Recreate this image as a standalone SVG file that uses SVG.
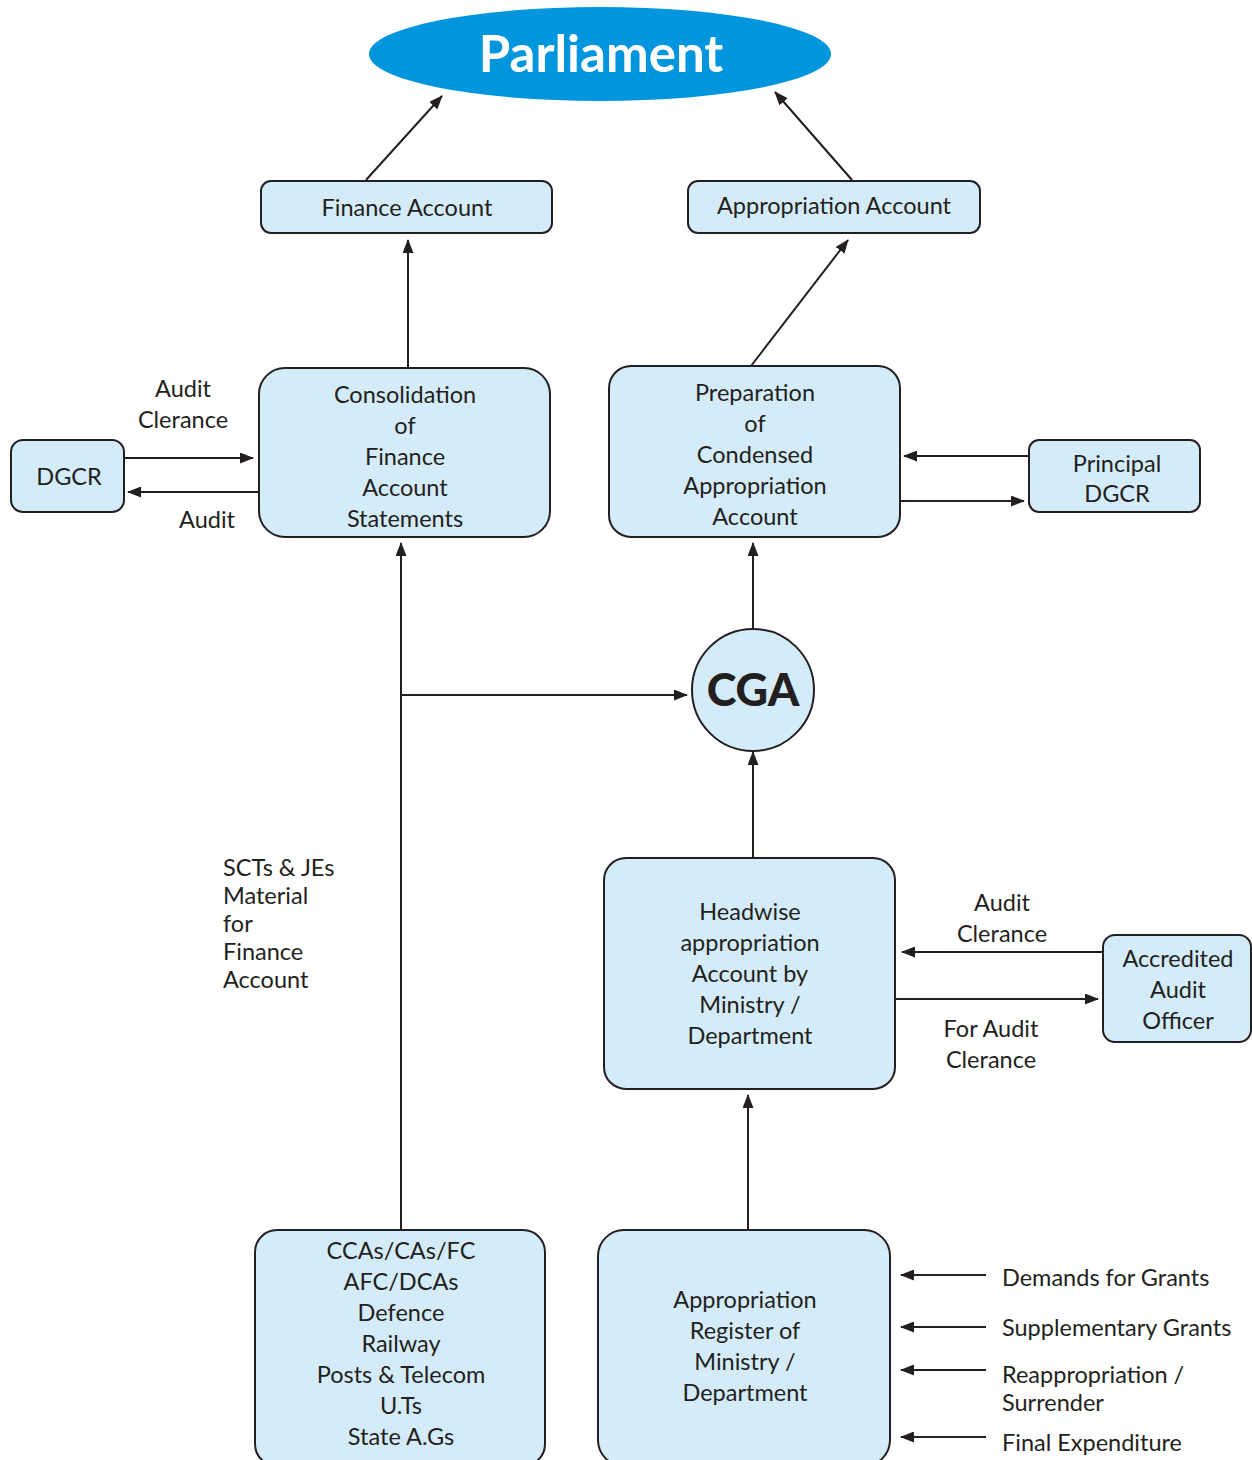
<svg xmlns="http://www.w3.org/2000/svg" width="1252" height="1460" viewBox="0 0 1252 1460">
  <style>
    .box { fill: #D4ECF9; stroke: #231F20; stroke-width: 2; }
    .t { font-family: Lato, "Open Sans", "Liberation Sans", sans-serif; font-size: 23.5px; fill: #231F20; }
    .c { text-anchor: middle; }
    .edge { stroke: #231F20; stroke-width: 2; fill: none; marker-end: url(#arrow); }
  </style>
  <defs>
    <marker id="arrow" viewBox="0 0 14 11" refX="13" refY="5.5" markerWidth="14" markerHeight="11" markerUnits="userSpaceOnUse" orient="auto">
      <path d="M0,0 L14,5.5 L0,11 Z" fill="#231F20"/>
    </marker>
  </defs>

  <!-- Nodes -->
  <g id="parliament">
    <ellipse cx="600" cy="54" rx="231" ry="47" fill="#0095DD"/>
    <text x="601" y="72" text-anchor="middle" font-family="Lato, 'Open Sans', sans-serif" font-weight="bold" font-size="51" fill="#FFFFFF">Parliament</text>
  </g>

  <g id="finance-account">
    <rect class="box" x="261" y="181" width="291" height="52" rx="10"/>
    <text class="t c" x="407" y="216">Finance Account</text>
  </g>

  <g id="appropriation-account">
    <rect class="box" x="688" y="181" width="292" height="52" rx="10"/>
    <text class="t c" x="834" y="214">Appropriation Account</text>
  </g>

  <g id="consolidation">
    <rect class="box" x="259" y="368" width="291" height="169" rx="26"/>
    <text class="t c" x="405" y="403">Consolidation</text>
    <text class="t c" x="405" y="434">of</text>
    <text class="t c" x="405" y="465">Finance</text>
    <text class="t c" x="405" y="496">Account</text>
    <text class="t c" x="405" y="527">Statements</text>
  </g>

  <g id="dgcr">
    <rect class="box" x="11" y="440" width="113" height="72" rx="12"/>
    <text class="t c" x="69" y="485">DGCR</text>
  </g>

  <g id="preparation">
    <rect class="box" x="609" y="366" width="291" height="171" rx="22"/>
    <text class="t c" x="755" y="401">Preparation</text>
    <text class="t c" x="755" y="432">of</text>
    <text class="t c" x="755" y="463">Condensed</text>
    <text class="t c" x="755" y="494">Appropriation</text>
    <text class="t c" x="755" y="525">Account</text>
  </g>

  <g id="principal-dgcr">
    <rect class="box" x="1029" y="440" width="171" height="72" rx="10"/>
    <text class="t c" x="1117" y="472">Principal</text>
    <text class="t c" x="1117" y="502">DGCR</text>
  </g>

  <g id="cga">
    <circle class="box" cx="753" cy="690" r="61"/>
    <text x="753" y="706" text-anchor="middle" font-family="Lato, 'Open Sans', sans-serif" font-weight="900" font-size="45" fill="#231F20">CGA</text>
  </g>

  <g id="headwise">
    <rect class="box" x="604" y="858" width="291" height="231" rx="22"/>
    <text class="t c" x="750" y="920">Headwise</text>
    <text class="t c" x="750" y="951">appropriation</text>
    <text class="t c" x="750" y="982">Account by</text>
    <text class="t c" x="750" y="1013">Ministry /</text>
    <text class="t c" x="750" y="1044">Department</text>
  </g>

  <g id="accredited">
    <rect class="box" x="1103" y="935" width="148" height="107" rx="12"/>
    <text class="t c" x="1178" y="967">Accredited</text>
    <text class="t c" x="1178" y="998">Audit</text>
    <text class="t c" x="1178" y="1029">Officer</text>
  </g>

  <g id="ccas">
    <rect class="box" x="255" y="1230" width="290" height="236" rx="22"/>
    <text class="t c" x="401" y="1259">CCAs/CAs/FC</text>
    <text class="t c" x="401" y="1290">AFC/DCAs</text>
    <text class="t c" x="401" y="1321">Defence</text>
    <text class="t c" x="401" y="1352">Railway</text>
    <text class="t c" x="401" y="1383">Posts &amp; Telecom</text>
    <text class="t c" x="401" y="1414">U.Ts</text>
    <text class="t c" x="401" y="1445">State A.Gs</text>
  </g>

  <g id="register">
    <rect class="box" x="598" y="1230" width="292" height="236" rx="26"/>
    <text class="t c" x="745" y="1308">Appropriation</text>
    <text class="t c" x="745" y="1339">Register of</text>
    <text class="t c" x="745" y="1370">Ministry /</text>
    <text class="t c" x="745" y="1401">Department</text>
  </g>

  <!-- Connectors -->
  <g id="connectors">
    <path class="edge" d="M366,180 L442,96"/>
    <path class="edge" d="M852,180 L775,92"/>
    <path class="edge" d="M408,368 L408,240"/>
    <path class="edge" d="M751,366 L848,240"/>
    <path class="edge" d="M124,458 L253,458"/>
    <path class="edge" d="M259,492 L128,492"/>
    <path class="edge" d="M1029,456 L904,456"/>
    <path class="edge" d="M900,501 L1024,501"/>
    <path class="edge" d="M753,630 L753,543"/>
    <path class="edge" d="M401,1230 L401,543"/>
    <path class="edge" d="M401,695 L687,695"/>
    <path class="edge" d="M753,858 L753,752"/>
    <path class="edge" d="M1103,952 L902,952"/>
    <path class="edge" d="M895,999 L1098,999"/>
    <path class="edge" d="M748,1230 L748,1095"/>
    <path class="edge" d="M986,1275 L901,1275"/>
    <path class="edge" d="M986,1327 L901,1327"/>
    <path class="edge" d="M986,1370 L901,1370"/>
    <path class="edge" d="M986,1437 L901,1437"/>
  </g>

  <!-- Connector labels -->
  <g id="labels">
    <text class="t c" x="183" y="397">Audit</text>
    <text class="t c" x="183" y="428">Clerance</text>
    <text class="t c" x="207" y="528">Audit</text>
    <text class="t" x="223" y="876">SCTs &amp; JEs</text>
    <text class="t" x="223" y="904">Material</text>
    <text class="t" x="223" y="932">for</text>
    <text class="t" x="223" y="960">Finance</text>
    <text class="t" x="223" y="988">Account</text>
    <text class="t c" x="1002" y="911">Audit</text>
    <text class="t c" x="1002" y="942">Clerance</text>
    <text class="t c" x="991" y="1037">For Audit</text>
    <text class="t c" x="991" y="1068">Clerance</text>
    <text class="t" x="1002" y="1286">Demands for Grants</text>
    <text class="t" x="1002" y="1336">Supplementary Grants</text>
    <text class="t" x="1002" y="1383">Reappropriation /</text>
    <text class="t" x="1002" y="1411">Surrender</text>
    <text class="t" x="1002" y="1451">Final Expenditure</text>
  </g>
</svg>
